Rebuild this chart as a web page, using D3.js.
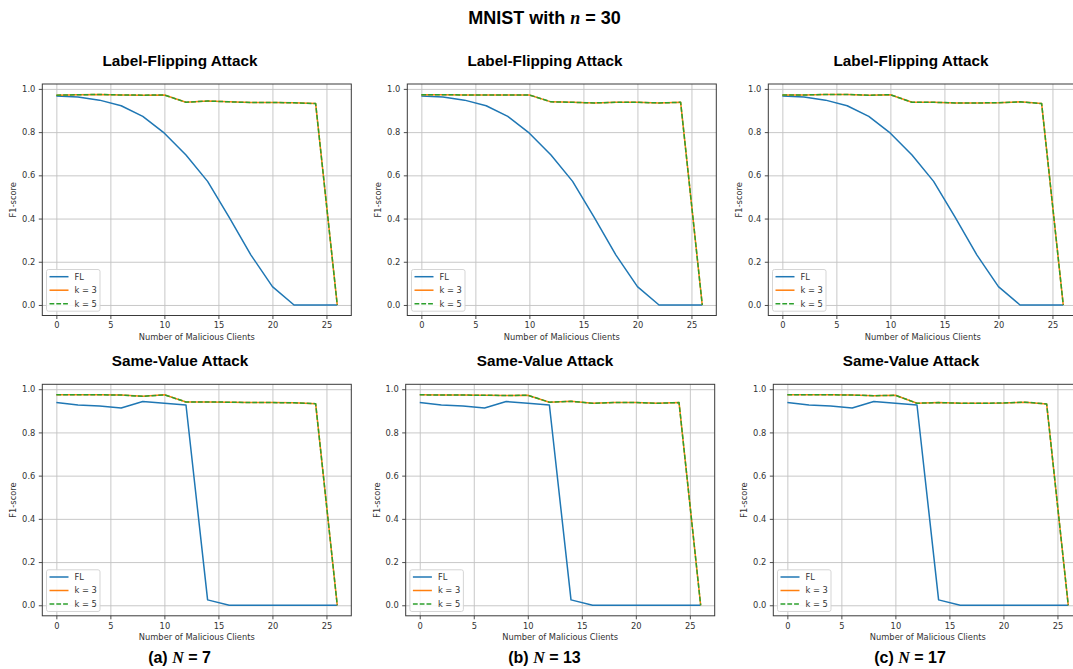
<!DOCTYPE html>
<html>
<head>
<meta charset="utf-8">
<script src="https://cdn.jsdelivr.net/npm/d3@7"></script>
<style>
  html, body { margin: 0; padding: 0; background: #fff; }
  svg { display: block; }
</style>
</head>
<body>
<svg id="chart" width="1073" height="669"></svg>
<script>
// Number of malicious clients on the x axis
const clients = [0, 2, 4, 6, 8, 10, 12, 14, 16, 18, 20, 22, 24, 26];

// Label-Flipping Attack: F1-score
const lfFL   = [0.967, 0.962, 0.948, 0.922, 0.873, 0.795, 0.694, 0.572, 0.405, 0.232, 0.085, 0.0, 0.0, 0.0];
const lfK3_a = [0.971, 0.973, 0.974, 0.972, 0.971, 0.972, 0.938, 0.944, 0.940, 0.937, 0.937, 0.936, 0.932, 0.0];
const lfK5_a = [0.971, 0.973, 0.974, 0.972, 0.971, 0.972, 0.938, 0.944, 0.940, 0.937, 0.937, 0.936, 0.932, 0.0];
const lfK3_b = [0.973, 0.973, 0.972, 0.972, 0.972, 0.972, 0.940, 0.938, 0.935, 0.938, 0.938, 0.935, 0.938, 0.0];
const lfK5_b = [0.973, 0.973, 0.972, 0.972, 0.972, 0.972, 0.940, 0.938, 0.935, 0.938, 0.938, 0.935, 0.938, 0.0];
const lfK3_c = [0.972, 0.972, 0.974, 0.974, 0.971, 0.973, 0.938, 0.938, 0.935, 0.935, 0.936, 0.940, 0.932, 0.0];
const lfK5_c = [0.972, 0.972, 0.974, 0.974, 0.971, 0.973, 0.938, 0.938, 0.935, 0.935, 0.936, 0.940, 0.932, 0.0];

// Same-Value Attack: F1-score
const svFL   = [0.938, 0.927, 0.922, 0.913, 0.943, 0.935, 0.927, 0.025, 0.0, 0.0, 0.0, 0.0, 0.0, 0.0];
const svK3_a = [0.974, 0.974, 0.974, 0.973, 0.967, 0.974, 0.941, 0.941, 0.940, 0.938, 0.938, 0.937, 0.933, 0.0];
const svK5_a = [0.974, 0.974, 0.974, 0.973, 0.967, 0.974, 0.941, 0.941, 0.940, 0.938, 0.938, 0.937, 0.933, 0.0];
const svK3_b = [0.974, 0.973, 0.973, 0.972, 0.971, 0.972, 0.940, 0.944, 0.935, 0.938, 0.938, 0.935, 0.938, 0.0];
const svK5_b = [0.974, 0.973, 0.973, 0.972, 0.971, 0.972, 0.940, 0.944, 0.935, 0.938, 0.938, 0.935, 0.938, 0.0];
const svK3_c = [0.974, 0.974, 0.974, 0.973, 0.970, 0.972, 0.935, 0.938, 0.935, 0.935, 0.936, 0.940, 0.932, 0.0];
const svK5_c = [0.974, 0.974, 0.974, 0.973, 0.970, 0.972, 0.935, 0.938, 0.935, 0.935, 0.936, 0.940, 0.932, 0.0];

// Tick values and labels
const xTicks = [0, 5, 10, 15, 20, 25];
const yTicks = [0.0, 0.2, 0.4, 0.6, 0.8, 1.0];
const seriesNames = ["FL", "k = 3", "k = 5"];
const attackTitles = ["Label-Flipping Attack", "Same-Value Attack"];
const captionPrefix = ["(a)", "(b)", "(c)"];
const captionN = [7, 13, 17];

const colors = ["#1f77b4", "#ff7f0e", "#2ca02c"];
const dashes = [null, null, "4.8,2"];

const svg = d3.select("#chart");
const tickFont = "'DejaVu Sans', sans-serif";
const titleFont = "'Liberation Sans', Arial, sans-serif";
const serifFont = "'Liberation Serif', 'Times New Roman', serif";

// Figure title
const mainTitle = svg.append("text")
  .attr("x", 544.5).attr("y", 23.5)
  .attr("text-anchor", "middle")
  .attr("font-family", titleFont).attr("font-weight", "bold")
  .attr("font-size", 18).attr("fill", "#000");
mainTitle.append("tspan").text("MNIST with ");
mainTitle.append("tspan").attr("font-family", serifFont).attr("font-style", "italic").text("n");
mainTitle.append("tspan").text(" = 30");

// Panel layout: columns x rows
const colLeftTop = [42.3, 407.3, 768.3];
const colLeftBottom = [42.3, 405.7, 773.3];
const titleCx = [180, 545, 911];
const captionCx = [179.5, 544.5, 910];
const rowTop = [84, 384.3];
const panelW = 309, panelH = 231.5;

const panels = [
  { row: 0, col: 0, series: [lfFL, lfK3_a, lfK5_a] },
  { row: 0, col: 1, series: [lfFL, lfK3_b, lfK5_b] },
  { row: 0, col: 2, series: [lfFL, lfK3_c, lfK5_c] },
  { row: 1, col: 0, series: [svFL, svK3_a, svK5_a] },
  { row: 1, col: 1, series: [svFL, svK3_b, svK5_b] },
  { row: 1, col: 2, series: [svFL, svK3_c, svK5_c] }
];

panels.forEach(p => {
  const L = p.row === 0 ? colLeftTop[p.col] : colLeftBottom[p.col];
  const T = rowTop[p.row];
  const R = L + panelW, B = T + panelH;

  const x = d3.scaleLinear().domain([-1.3, 27.3]).range([L, R]);
  const y = d3.scaleLinear().domain([-0.0487, 1.0227]).range([B, T]);

  const g = svg.append("g");

  // grid
  g.append("g").attr("transform", `translate(0,${B})`)
    .call(d3.axisBottom(x).tickValues(xTicks).tickSize(-panelH).tickFormat(""))
    .call(s => s.select(".domain").remove())
    .call(s => s.selectAll("line").attr("stroke", "#c2c2c2").attr("stroke-width", 0.9));
  g.append("g").attr("transform", `translate(${L},0)`)
    .call(d3.axisLeft(y).tickValues(yTicks).tickSize(-panelW).tickFormat(""))
    .call(s => s.select(".domain").remove())
    .call(s => s.selectAll("line").attr("stroke", "#c2c2c2").attr("stroke-width", 0.9));

  // series lines
  const line = d3.line().x((d, i) => x(clients[i])).y(d => y(d));
  p.series.forEach((vals, si) => {
    g.append("path").datum(vals)
      .attr("d", line)
      .attr("fill", "none")
      .attr("stroke", colors[si])
      .attr("stroke-width", 1.5)
      .attr("stroke-dasharray", dashes[si])
      .attr("stroke-linejoin", "round");
  });

  // spines
  g.append("rect").attr("x", L).attr("y", T).attr("width", panelW).attr("height", panelH)
    .attr("fill", "none").attr("stroke", "#3a3a3a").attr("stroke-width", 1);

  // axes with ticks and labels
  const xa = g.append("g").attr("transform", `translate(0,${B})`)
    .call(d3.axisBottom(x).tickValues(xTicks).tickSize(3.5).tickPadding(3.5).tickFormat(d3.format("d")));
  const ya = g.append("g").attr("transform", `translate(${L},0)`)
    .call(d3.axisLeft(y).tickValues(yTicks).tickSize(3.5).tickPadding(3.5).tickFormat(d3.format(".1f")));
  [xa, ya].forEach(a => {
    a.select(".domain").remove();
    a.selectAll("line").attr("stroke", "#3a3a3a").attr("stroke-width", 0.9);
    a.selectAll("text").attr("font-family", tickFont).attr("font-size", 8.3).attr("fill", "#333");
  });

  // axis labels
  g.append("text")
    .attr("x", (L + R) / 2).attr("y", B + 24)
    .attr("text-anchor", "middle")
    .attr("font-family", tickFont).attr("font-size", 8.3).attr("fill", "#333")
    .text("Number of Malicious Clients");
  g.append("text")
    .attr("transform", `translate(${L - 26},${(T + B) / 2}) rotate(-90)`)
    .attr("text-anchor", "middle")
    .attr("font-family", tickFont).attr("font-size", 8.3).attr("fill", "#333")
    .text("F1-score");

  // panel title
  g.append("text")
    .attr("x", titleCx[p.col]).attr("y", T - 18)
    .attr("text-anchor", "middle")
    .attr("font-family", titleFont).attr("font-weight", "bold")
    .attr("font-size", 15.3).attr("fill", "#000")
    .text(attackTitles[p.row]);

  // legend
  const lg = g.append("g").attr("transform", `translate(${L + 4.2},${B - 46})`);
  lg.append("rect").attr("width", 53.5).attr("height", 41.7).attr("rx", 2)
    .attr("fill", "#fff").attr("fill-opacity", 0.85)
    .attr("stroke", "#d0d0d0").attr("stroke-width", 0.9);
  seriesNames.forEach((name, si) => {
    const yy = 7.2 + si * 13.5;
    lg.append("line").attr("x1", 3).attr("x2", 22).attr("y1", yy).attr("y2", yy)
      .attr("stroke", colors[si]).attr("stroke-width", 1.5)
      .attr("stroke-dasharray", dashes[si]);
    lg.append("text").attr("x", 28).attr("y", yy).attr("dy", "0.35em")
      .attr("font-family", tickFont).attr("font-size", 8.3).attr("fill", "#333")
      .text(name);
  });

  // column caption under the bottom row
  if (p.row === 1) {
    const cap = svg.append("text")
      .attr("x", captionCx[p.col]).attr("y", 663.3)
      .attr("text-anchor", "middle")
      .attr("font-family", titleFont).attr("font-weight", "bold")
      .attr("font-size", 16).attr("fill", "#000");
    cap.append("tspan").text(captionPrefix[p.col] + " ");
    cap.append("tspan").attr("font-family", serifFont).attr("font-style", "italic").text("N");
    cap.append("tspan").text(" = " + captionN[p.col]);
  }
});
</script>
</body>
</html>
